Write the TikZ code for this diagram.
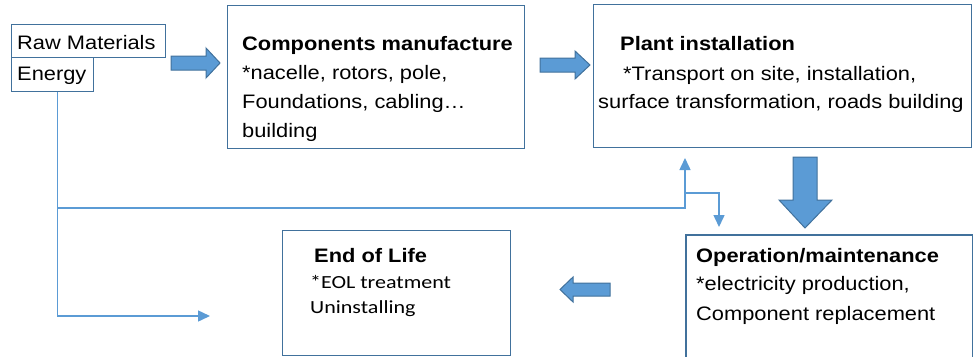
\documentclass[tikz,border=0pt]{standalone}
\usepackage{fontspec}
\setmainfont{Liberation Sans}[FakeStretch=1.12]
\newfontfamily\calfont{Carlito}[FakeStretch=1.19]
\usetikzlibrary{arrows.meta}
\definecolor{boxblue}{HTML}{41719C}
\definecolor{lineblue}{HTML}{5B9BD5}
\tikzset{
  box/.style={draw=boxblue, line width=1.3pt, fill=white, inner sep=0, anchor=north west},
  openbox/.style={inner sep=0, anchor=north west},
  txt/.style={inner sep=0, anchor=base west, font=\fontsize{19.5}{23}\selectfont},
  caltxt/.style={inner sep=0, anchor=base west, font=\calfont\fontsize{18.5}{22}\selectfont},
  conn/.style={draw=lineblue, line width=1.5pt},
  connarrow/.style={conn, -{Triangle[length=12pt,width=11pt]}},
  blockarrow/.style={fill=lineblue, draw=boxblue, line width=1pt, line join=miter}
}
\begin{document}
\begin{tikzpicture}[x=1pt,y=-1pt]
\useasboundingbox (0,0) rectangle (974,356);

% boxes
\node[box, minimum width=154pt, minimum height=33pt] (raw) at (11,24) {};
\node[box, minimum width=82pt, minimum height=34pt] (energy) at (11,57) {};
\node[box, minimum width=297pt, minimum height=143pt] (comp) at (227,5) {};
\node[box, minimum width=378pt, minimum height=143pt] (plant) at (593,4) {};
\node[box, minimum width=228pt, minimum height=125pt] (eol) at (282,230) {};
\node[openbox, minimum width=286pt, minimum height=125pt] (op) at (686,235) {};
\draw[draw=boxblue, line width=1.3pt] (op.south west) -- (op.north west) -- (op.north east) -- (op.south east);

% texts
\node[txt] (tRaw) at (17,49) {Raw Materials};
\node[txt] (tEnergy) at (17,80) {Energy};

\node[txt] (tComp1) at (242,50) {\textbf{Components manufacture}};
\node[txt] (tComp2) at (242,79) {*nacelle, rotors, pole,};
\node[txt] (tComp3) at (242,108) {Foundations, cabling…};
\node[txt] (tComp4) at (242,137) {building};

\node[txt] (tPlant1) at (620,50) {\textbf{Plant installation}};
\node[txt] (tPlant2) at (623,80) {*Transport on site, installation,};
\node[txt] (tPlant3) at (598,108) {surface transformation, roads building};

\node[txt] (tOp1) at (696,262) {\textbf{Operation/maintenance}};
\node[txt] (tOp2) at (696,290) {*electricity production,};
\node[txt] (tOp3) at (696,320) {Component replacement};

\node[txt] (tEol1) at (314,262) {\textbf{End of Life}};
\node[caltxt] (tEol2) at (310,288) {*EOL treatment};
\node[caltxt] (tEol3) at (310,313) {Uninstalling};

% block arrows
\draw[blockarrow] (171,56) -- (206,56) -- (206,48) -- (220,63) -- (206,78) -- (206,70) -- (171,70) -- cycle;
\draw[blockarrow] (540,58) -- (575,58) -- (575,51) -- (590,65) -- (575,79) -- (575,72) -- (540,72) -- cycle;
\draw[blockarrow] (793,157) -- (817,157) -- (817,200) -- (832,200) -- (805,228) -- (779,200) -- (793,200) -- cycle;
\draw[blockarrow] (610,283) -- (573,283) -- (573,277) -- (560,289.5) -- (573,302) -- (573,296) -- (610,296) -- cycle;

% thin connectors
\coordinate (e1) at (210,316);
\coordinate (j1) at (57,208);
\coordinate (up) at (685,158);
\coordinate (j2) at (685,193);
\coordinate (dn) at (719,227);
\draw[connarrow] ([xshift=5pt]energy.south) |- (e1);
\draw[connarrow] (j1) -| (up);
\draw[connarrow] (j2) -| (dn);
\end{tikzpicture}
\end{document}
